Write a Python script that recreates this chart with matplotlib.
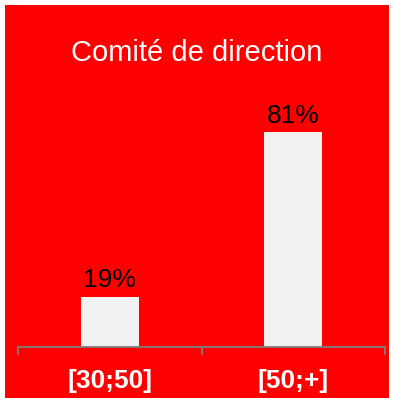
import matplotlib
matplotlib.use("Agg")
import matplotlib.pyplot as plt
from matplotlib.patches import Rectangle
from matplotlib.ticker import FixedLocator

plt.rcParams['font.family'] = ['Liberation Sans', 'DejaVu Sans']

# age groups of the board members
categories = ['[30;50]', '[50;+]']
shares = [19, 81]

fig = plt.figure(figsize=(3.94, 3.98), dpi=100, facecolor='white')

# red panel behind everything
fig.patches.append(Rectangle((5 / 394, 0), 384 / 394, 393 / 398,
                             transform=fig.transFigure, facecolor='#ff0000',
                             edgecolor='none', zorder=-5))

ax = fig.add_axes([18 / 394, 51 / 398, 367 / 394, 265.4 / 398])
ax.set_facecolor('none')
ax.set_zorder(2)

x = range(len(categories))
bars = ax.bar(x, shares, width=0.315, color='#f2f2f2', zorder=2)
for b, v in zip(bars, shares):
    ax.annotate(f'{v}%', (b.get_x() + b.get_width() / 2, v),
                xytext=(0, 3), textcoords='offset points',
                ha='center', va='bottom', fontsize=19, color='black')

ax.set_xlim(-0.5, 1.5)
ax.set_ylim(0, 100)
for s in ['top', 'left', 'right']:
    ax.spines[s].set_visible(False)
ax.spines['bottom'].set_color('#7f7f7f')
ax.spines['bottom'].set_linewidth(1.3)
ax.set_yticks([])

ax.set_xticks(list(x))
ax.set_xticklabels(categories, fontsize=19, fontweight='bold', color='white')
ax.tick_params(axis='x', which='major', length=0, pad=16)
ax.xaxis.set_minor_locator(FixedLocator([-0.5, 0.5, 1.5]))
ax.tick_params(axis='x', which='minor', length=6, width=1.3, color='#7f7f7f')

fig.text(0.5, 1 - 53 / 398, 'Comité de direction', ha='center', va='center',
         fontsize=21, color='white', zorder=3)

fig.savefig('out.png', dpi=100, facecolor=fig.get_facecolor())
